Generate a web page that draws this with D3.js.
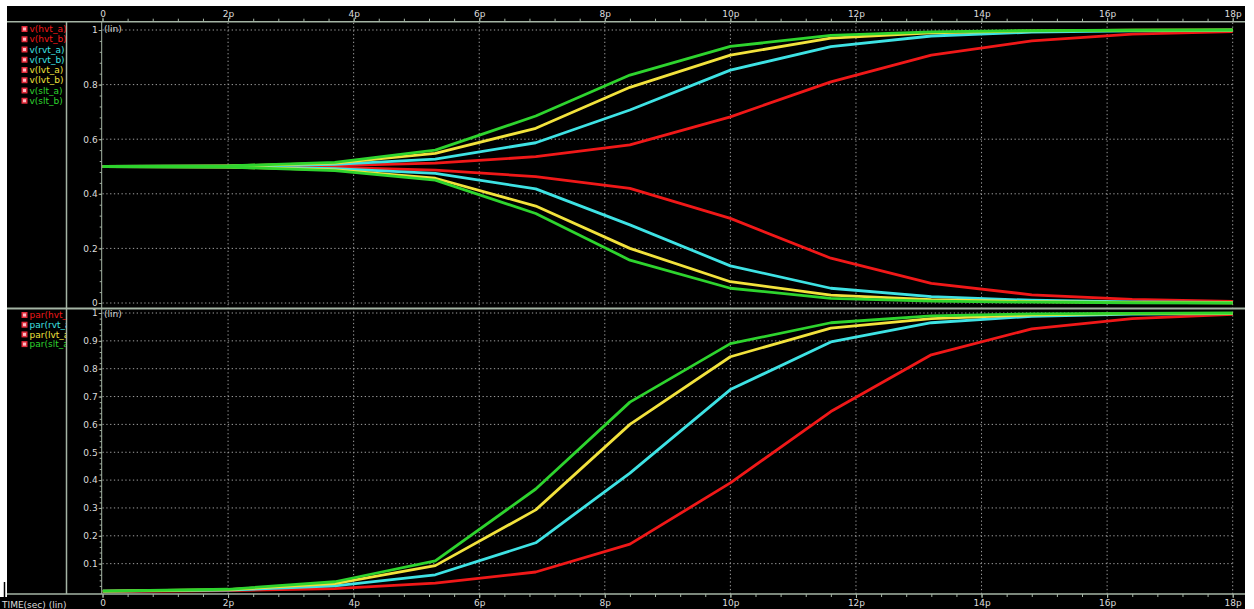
<!DOCTYPE html>
<html><head><meta charset="utf-8">
<script src="https://cdn.jsdelivr.net/npm/d3@7"></script>
<style>
html,body{margin:0;padding:0;background:#fff;}
svg{display:block;}
text{font-family:"DejaVu Sans",sans-serif;font-size:9px;}
</style>
</head><body>
<svg id="chart" width="1254" height="609"></svg>
<script>
// Simulation time points (picoseconds)
const timePs = [0, 2.0, 3.7, 5.3, 6.9, 8.4, 10.0, 11.6, 13.2, 14.8, 16.4, 18.0];

// Upper panel: node voltages (normalised)
const vHvtA = [0.5, 0.5, 0.503, 0.512, 0.536, 0.579, 0.682, 0.81, 0.908, 0.96, 0.985, 0.994];
const vHvtB = [0.5, 0.5, 0.497, 0.487, 0.463, 0.42, 0.31, 0.164, 0.072, 0.03, 0.013, 0.006];
const vRvtA = [0.5, 0.501, 0.508, 0.527, 0.587, 0.707, 0.853, 0.939, 0.978, 0.992, 0.997, 0.999];
const vRvtB = [0.5, 0.499, 0.492, 0.475, 0.418, 0.286, 0.136, 0.054, 0.023, 0.01, 0.004, 0.002];
const vLvtA = [0.5, 0.502, 0.512, 0.548, 0.64, 0.79, 0.908, 0.97, 0.99, 0.997, 0.999, 1.0];
const vLvtB = [0.5, 0.498, 0.488, 0.457, 0.355, 0.2, 0.078, 0.029, 0.012, 0.005, 0.002, 0.001];
const vSltA = [0.5, 0.502, 0.515, 0.56, 0.685, 0.835, 0.94, 0.98, 0.993, 0.998, 0.999, 1.0];
const vSltB = [0.5, 0.498, 0.485, 0.45, 0.328, 0.157, 0.054, 0.017, 0.007, 0.003, 0.001, 0.0];

// Lower panel: par() measurements
const parHvt = [0.0, 0.003, 0.01, 0.03, 0.07, 0.17, 0.39, 0.646, 0.85, 0.943, 0.98, 0.995];
const parRvt = [0.001, 0.005, 0.02, 0.06, 0.175, 0.425, 0.725, 0.896, 0.965, 0.988, 0.996, 0.998];
const parLvt = [0.001, 0.007, 0.028, 0.093, 0.293, 0.6, 0.843, 0.946, 0.98, 0.993, 0.998, 0.999];
const parSlt = [0.001, 0.008, 0.035, 0.11, 0.368, 0.68, 0.89, 0.965, 0.99, 0.997, 0.999, 1.0];

// Tick labels
const xTickValues = [0, 2, 4, 6, 8, 10, 12, 14, 16, 18];
const xTickLabels = ["0", "2p", "4p", "6p", "8p", "10p", "12p", "14p", "16p", "18p"];
const upperTickValues = [0, 0.2, 0.4, 0.6, 0.8, 1];
const upperTickLabels = ["0", "0.2", "0.4", "0.6", "0.8", "1"];
const lowerTickValues = [0.1, 0.2, 0.3, 0.4, 0.5, 0.6, 0.7, 0.8, 0.9, 1];
const lowerTickLabels = ["0.1", "0.2", "0.3", "0.4", "0.5", "0.6", "0.7", "0.8", "0.9", "1"];

const upperNames = ["v(hvt_a)", "v(hvt_b)", "v(rvt_a)", "v(rvt_b)", "v(lvt_a)", "v(lvt_b)", "v(slt_a)", "v(slt_b)"];
const lowerNames = ["par(hvt_a)", "par(rvt_a)", "par(lvt_a)", "par(slt_a)"];

const RED = "#f01818", CYAN = "#3ee2e4", YELLOW = "#f2e23c", GREEN = "#2ed42e";
const AXIS = "#a4b4a4", GRID = "#bcbcbc", LABEL = "#dcdcdc";

const upperSeries = [
  {name: upperNames[0], values: vHvtA, color: RED},
  {name: upperNames[1], values: vHvtB, color: RED},
  {name: upperNames[2], values: vRvtA, color: CYAN},
  {name: upperNames[3], values: vRvtB, color: CYAN},
  {name: upperNames[4], values: vLvtA, color: YELLOW},
  {name: upperNames[5], values: vLvtB, color: YELLOW},
  {name: upperNames[6], values: vSltA, color: GREEN},
  {name: upperNames[7], values: vSltB, color: GREEN}
];
const lowerSeries = [
  {name: lowerNames[0], values: parHvt, color: RED},
  {name: lowerNames[1], values: parRvt, color: CYAN},
  {name: lowerNames[2], values: parLvt, color: YELLOW},
  {name: lowerNames[3], values: parSlt, color: GREEN}
];

const svg = d3.select("#chart");

// Frame
svg.append("rect").attr("x", 7).attr("y", 6).attr("width", 1238).attr("height", 603).attr("fill", "#000");
svg.append("rect").attr("x", 0).attr("y", 597).attr("width", 7).attr("height", 12).attr("fill", "#000");
svg.append("line").attr("x1", 4.5).attr("x2", 4.5).attr("y1", 582).attr("y2", 609)
  .attr("stroke", "#000").attr("stroke-width", 1.5);

const x = d3.scaleLinear().domain([0, 18]).range([102.5, 1232.7]);
const yUp = d3.scaleLinear().domain([0, 1]).range([303, 30]);
const yLo = d3.scaleLinear().domain([0, 1]).range([591.5, 313]);

const TOP_Y = 21.7, SEP_Y = 308.5, BOT_Y = 594;

const defs = svg.append("defs");
defs.append("clipPath").attr("id", "clipUp").append("rect")
  .attr("x", x(0)).attr("y", TOP_Y).attr("width", x(18) - x(0) + 2).attr("height", SEP_Y - TOP_Y - 1);
defs.append("clipPath").attr("id", "clipLo").append("rect")
  .attr("x", x(0)).attr("y", SEP_Y + 1).attr("width", x(18) - x(0) + 2).attr("height", BOT_Y - SEP_Y - 1);
defs.append("clipPath").attr("id", "clipLegend").append("rect")
  .attr("x", 8).attr("y", TOP_Y).attr("width", 58).attr("height", BOT_Y - TOP_Y);

// Dotted grid
const grid = svg.append("g").attr("stroke", GRID).attr("stroke-width", 1)
  .attr("stroke-dasharray", "1.3,2.5").attr("opacity", 0.85);
grid.selectAll("line.v").data(xTickValues.slice(1)).join("line").attr("class", "v")
  .attr("x1", d => x(d)).attr("x2", d => x(d)).attr("y1", TOP_Y + 1).attr("y2", BOT_Y);
grid.selectAll("line.hu").data(upperTickValues).join("line").attr("class", "hu")
  .attr("x1", x(0)).attr("x2", x(18)).attr("y1", d => yUp(d)).attr("y2", d => yUp(d));
grid.selectAll("line.hl").data(lowerTickValues).join("line").attr("class", "hl")
  .attr("x1", x(0)).attr("x2", x(18)).attr("y1", d => yLo(d)).attr("y2", d => yLo(d));

function styleAxis(g) {
  g.select(".domain").remove();
  g.selectAll("line").attr("stroke", AXIS);
  g.selectAll("text").attr("fill", LABEL).style("font-family", "'DejaVu Sans',sans-serif").style("font-size", "9px");
}

// X axes (top and bottom)
const minorX = d3.range(0, 18.001, 0.4);
svg.append("g").attr("transform", `translate(0,${TOP_Y})`)
  .call(d3.axisTop(x).tickValues(minorX).tickSize(3).tickFormat(""))
  .call(styleAxis);
svg.append("g").attr("transform", `translate(0,${TOP_Y})`)
  .call(d3.axisTop(x).tickValues(xTickValues).tickSize(4).tickPadding(1)
    .tickFormat((d, i) => xTickLabels[i]))
  .call(styleAxis);
svg.append("g").attr("transform", `translate(0,${BOT_Y})`)
  .call(d3.axisBottom(x).tickValues(minorX).tickSize(3).tickFormat(""))
  .call(styleAxis);
svg.append("g").attr("transform", `translate(0,${BOT_Y})`)
  .call(d3.axisBottom(x).tickValues(xTickValues).tickSize(4).tickPadding(2)
    .tickFormat((d, i) => xTickLabels[i]))
  .call(styleAxis);

// Y axes
const yAxisX = x(0) - 0.8;
svg.append("g").attr("transform", `translate(${yAxisX},0)`)
  .call(d3.axisLeft(yUp).tickValues(d3.range(0, 26).map(k => k * 0.04)).tickSize(2).tickFormat(""))
  .call(styleAxis);
svg.append("g").attr("transform", `translate(${yAxisX},0)`)
  .call(d3.axisLeft(yUp).tickValues(upperTickValues).tickSize(3).tickPadding(1)
    .tickFormat((d, i) => upperTickLabels[i]))
  .call(styleAxis);
svg.append("g").attr("transform", `translate(${yAxisX},0)`)
  .call(d3.axisLeft(yLo).tickValues(d3.range(1, 51).map(k => k * 0.02)).tickSize(2).tickFormat(""))
  .call(styleAxis);
svg.append("g").attr("transform", `translate(${yAxisX},0)`)
  .call(d3.axisLeft(yLo).tickValues(lowerTickValues).tickSize(3).tickPadding(1)
    .tickFormat((d, i) => lowerTickLabels[i]))
  .call(styleAxis);

// Frame lines
const frame = svg.append("g").attr("stroke", AXIS);
frame.append("line").attr("x1", 7).attr("x2", 1245).attr("y1", TOP_Y).attr("y2", TOP_Y).attr("stroke-width", 1.5);
frame.append("line").attr("x1", 7).attr("x2", 1245).attr("y1", SEP_Y).attr("y2", SEP_Y).attr("stroke-width", 2);
frame.append("line").attr("x1", 7).attr("x2", 1245).attr("y1", BOT_Y).attr("y2", BOT_Y).attr("stroke-width", 1.5);
frame.append("line").attr("x1", 66.5).attr("x2", 66.5).attr("y1", TOP_Y).attr("y2", BOT_Y).attr("stroke-width", 1.5);
frame.append("line").attr("x1", yAxisX).attr("x2", yAxisX).attr("y1", TOP_Y).attr("y2", BOT_Y).attr("stroke-width", 1);

// Scale-type annotations
svg.append("text").attr("x", 104).attr("y", 32).attr("fill", LABEL).text("(lin)");
svg.append("text").attr("x", 104).attr("y", 316.5).attr("fill", LABEL).text("(lin)");
svg.append("text").attr("x", 2).attr("y", 607.5).attr("fill", LABEL).text("TIME(sec) (lin)");

// Curves
const lineUp = d3.line().x((d, i) => x(timePs[i])).y(d => yUp(d));
const lineLo = d3.line().x((d, i) => x(timePs[i])).y(d => yLo(d));

svg.append("g").attr("clip-path", "url(#clipUp)")
  .selectAll("path").data(upperSeries).join("path")
  .attr("d", d => lineUp(d.values)).attr("fill", "none")
  .attr("stroke", d => d.color).attr("stroke-width", 2.8).attr("stroke-linejoin", "round");

svg.append("g").attr("clip-path", "url(#clipLo)")
  .selectAll("path").data(lowerSeries).join("path")
  .attr("d", d => lineLo(d.values)).attr("fill", "none")
  .attr("stroke", d => d.color).attr("stroke-width", 2.8).attr("stroke-linejoin", "round");

// Legends
function legend(series, y0, step) {
  const g = svg.append("g").attr("clip-path", "url(#clipLegend)");
  const row = g.selectAll("g").data(series).join("g")
    .attr("transform", (d, i) => `translate(0,${y0 + i * step})`);
  row.append("rect").attr("x", 21.5).attr("y", -3).attr("width", 6).attr("height", 6)
    .attr("fill", "#e02a3a");
  row.append("rect").attr("x", 23).attr("y", -1.5).attr("width", 3).attr("height", 3)
    .attr("fill", "#ffb8c0");
  row.append("text").attr("x", 29.5).attr("y", 3.2).attr("fill", d => d.color).text(d => d.name);
}
legend(upperSeries, 29, 10.25);
legend(lowerSeries, 315, 9.7);
</script>
</body></html>
